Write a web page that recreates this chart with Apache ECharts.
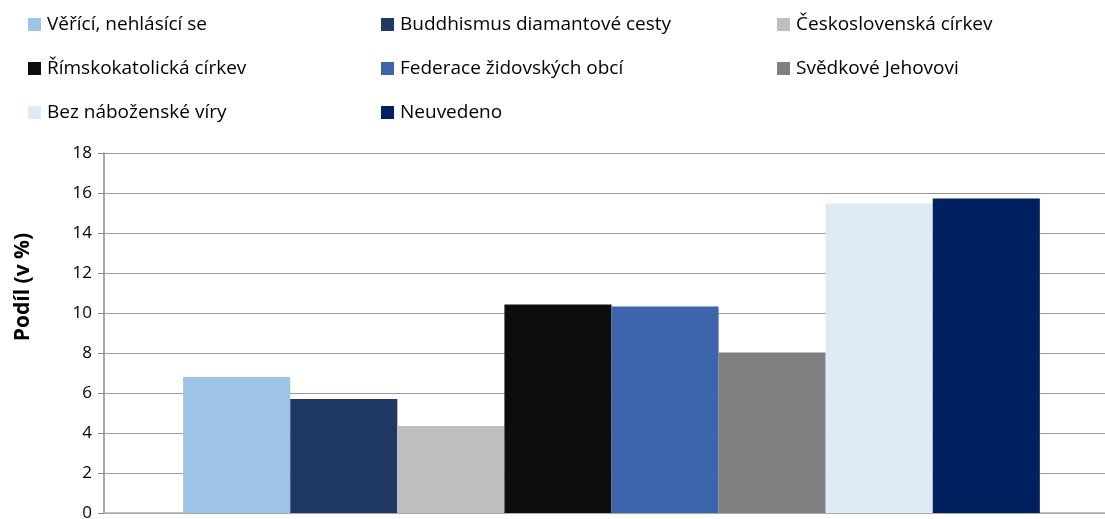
<!DOCTYPE html>
<html>
<head>
<meta charset="utf-8">
<script src="https://cdn.jsdelivr.net/npm/echarts@6/dist/echarts.min.js"></script>
<style>
    html, body { margin: 0; padding: 0; background: #fff; }
    #chart { width: 1105px; height: 519px; }
</style>
</head>
<body>
<div id="chart"></div>
<script>
// data
const seriesNames = [
    'Věřící, nehlásící se',
    'Buddhismus diamantové cesty',
    'Československá církev',
    'Římskokatolická církev',
    'Federace židovských obcí',
    'Svědkové Jehovovi',
    'Bez náboženské víry',
    'Neuvedeno'
];
const seriesValues = [6.8, 5.7, 4.35, 10.43, 10.33, 8.02, 15.47, 15.72];
const colors = ['#9dc3e6', '#203864', '#bfbfbf', '#0d0d0d', '#3d65ab', '#808080', '#deeaf6', '#002060'];
const categories = [''];
const yTicks = { min: 0, max: 18, interval: 2 };

const FONT = 'Open Sans';

// legend in 3 columns
function legendCol(names, left) {
    return {
        orient: 'vertical',
        left: left,
        top: 10,
        itemWidth: 13,
        itemHeight: 13,
        itemGap: 25,
        itemStyle: { borderWidth: 0 },
        icon: 'rect',
        data: names,
        textStyle: { fontFamily: FONT, fontSize: 19, color: '#000', padding: [0, 0, 0, 1] }
    };
}

const option = {
    animation: false,
    color: colors,
    legend: [
        legendCol([seriesNames[0], seriesNames[3], seriesNames[6]], 23),
        legendCol([seriesNames[1], seriesNames[4], seriesNames[7]], 376),
        legendCol([seriesNames[2], seriesNames[5]], 772)
    ],
    // plot area runs a bit past the right edge of the canvas
    grid: { left: 104, top: 153, right: -14, bottom: 6, outerBoundsMode: 'none' },
    xAxis: {
        type: 'category',
        data: categories,
        axisLine: { lineStyle: { color: '#b0b0b0', width: 1.5 } },
        axisTick: { show: false },
        axisLabel: { show: false }
    },
    yAxis: {
        type: 'value',
        min: yTicks.min,
        max: yTicks.max,
        interval: yTicks.interval,
        name: 'Podíl (v %)',
        nameLocation: 'middle',
        nameGap: 70,
        nameTextStyle: { fontFamily: FONT, fontSize: 21, fontWeight: 'bold', color: '#000', padding: [0, 0, 0, 92] },
        axisLine: { show: true, lineStyle: { color: '#8c8c8c', width: 1.5 } },
        axisTick: { show: true, inside: false, length: 6, lineStyle: { color: '#8c8c8c' } },
        axisLabel: { fontFamily: FONT, fontSize: 17, color: '#000', margin: 12 },
        splitLine: { lineStyle: { color: '#9a9a9a', width: 1.2 } }
    },
    series: seriesNames.map((name, i) => ({
        name: name,
        type: 'bar',
        data: [seriesValues[i]],
        barGap: '0%',
        barCategoryGap: '15.6%'
    }))
};

const myChart = echarts.init(document.getElementById('chart'));
myChart.setOption(option);
</script>
</body>
</html>
